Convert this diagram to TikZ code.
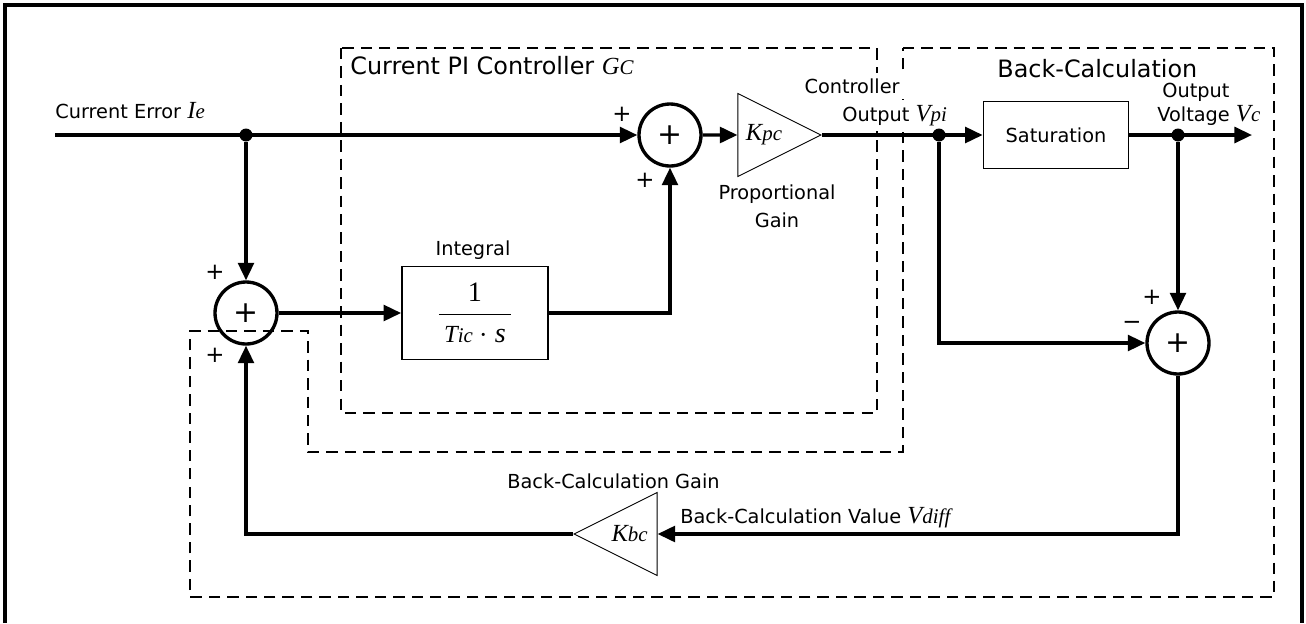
\documentclass[tikz,border=0pt]{standalone}
\usepackage{fontspec}
\setmainfont{DejaVu Sans}
\newfontfamily\varfont{Liberation Serif}
\usetikzlibrary{arrows.meta, positioning, shapes.geometric}
\newcommand{\vsym}[2]{{\fontsize{14}{14}\selectfont\varfont\itshape #1\scalebox{0.85}{#2}}}

\begin{document}
\begin{tikzpicture}[
      x=0.02cm, y=-0.02cm,
      font=\fontsize{11}{12}\selectfont,
      sig/.style={line width=1.9pt, -{Triangle[length=10pt,width=9pt]}},
      blk/.style={draw, line width=1pt, minimum width=2.92cm, minimum height=1.86cm, inner sep=0pt},
      sumc/.style={circle, draw, line width=1.9pt, minimum size=1.24cm, inner sep=0pt,
                   font=\fontsize{17}{17}\selectfont},
      gain/.style={isosceles triangle, isosceles triangle stretches, draw, line width=0.5pt,
                   minimum width=1.66cm, minimum height=1.66cm, inner sep=0pt},
      grp/.style={line width=1.1pt, dash pattern=on 6.5pt off 4pt},
      dot/.style={circle, fill, inner sep=0pt, minimum size=0.26cm},
      sgn/.style={inner sep=0pt, font=\fontsize{13}{13}\selectfont},
      ttl/.style={inner sep=0pt, anchor=base west, font=\fontsize{13.6}{16}\selectfont},
      lbl/.style={inner sep=0pt, anchor=base west},
    ]
    \useasboundingbox (0,0) rectangle (1306,623);
    \draw[line width=1.9pt] (5,623) -- (5,5) -- (1302,5) -- (1302,623);

    % dashed groups
    \draw[grp] (341,48) rectangle (877,413);
    \draw[grp] (903,48) -- (1274,48) -- (1274,597) -- (190,597) -- (190,331)
               -- (308,331) -- (308,452) -- (903,452) -- cycle;

    % labels
    \node[ttl] (pititle) at (350,74) {Current PI Controller \vsym{G}{C}};
    \node[ttl] (bctitle) at (997,77) {Back-Calculation};
    \node[lbl] (errlbl) at (55,118) {Current Error \vsym{I}{e}};
    \node[lbl, anchor=base] (intlbl) at (473,255) {Integral};
    \node[lbl, anchor=base east, fill=white, inner xsep=4pt, inner ysep=3pt] (ctrl1) at (907,93) {Controller};
    \node[lbl, fill=white, inner ysep=3pt] (ctrl2) at (842,121) {Output \vsym{V}{pi}};
    \node[lbl] (vc1) at (1162,97) {Output};
    \node[lbl] (vc2) at (1157,121) {Voltage \vsym{V}{c}};
    \node[lbl, anchor=north, align=center, font=\fontsize{11}{16}\selectfont] (pglbl) at (777,184) {Proportional\\Gain};
    \node[lbl] (bglbl) at (507,488) {Back-Calculation Gain};
    \node[lbl] (bvlbl) at (680,523) {Back-Calculation Value \vsym{V}{diff}};

    % blocks
    \node[sumc] (s1) at (246,313) {+};
    \node[sumc] (s2) at (670,135) {+};
    \node[sumc] (s3) at (1178,343) {+};
    \node[blk] (intg) at (475,313)
      {\fontsize{16}{16}\selectfont$\displaystyle\frac{\mbox{\varfont 1}}{\hspace{3pt}\mbox{\vsym{T}{ic}}\cdot\mbox{\varfont\itshape s}\hspace{3pt}}$};
    \node[blk, minimum width=2.9cm, minimum height=1.34cm] (sat) at (1056,135) {Saturation};
    \node[gain, anchor=apex] (kpc) at (822,135) {\vsym{K}{pc}};
    \node[gain, anchor=apex, shape border rotate=180] (kbc) at (573,534) {\vsym{K}{bc}};

    \coordinate (in) at (55,135);
    \coordinate (out) at (1252,135);
    \node[dot] (j1) at (246,135) {};
    \node[dot] (jpi) at (939,135) {};
    \node[dot] (jvc) at (1178,135) {};

    % signals
    \draw[sig] (in) -- (s2);
    \draw[sig] (j1) -- (s1);
    \draw[sig] (s1) -- (intg);
    \draw[sig] (intg) -| (s2);
    \draw[sig] (s2) -- (kpc);
    \draw[sig] (kpc.apex) -- (sat);
    \draw[sig] (sat) -- (out);
    \draw[sig] (jvc) -- (s3);
    \draw[sig] (jpi) |- (s3);
    \draw[sig] (s3) |- (kbc);
    \draw[sig] (kbc) -| (s1);

    % signs
    \node[sgn] (s1a) at (215,272) {+};
    \node[sgn] (s1b) at (215,355) {+};
    \node[sgn] (s2a) at (622,114) {+};
    \node[sgn] (s2b) at (645,180) {+};
    \node[sgn] (s3a) at (1152,297) {+};
    \node[sgn] (s3b) at (1132,325) {−};
  \end{tikzpicture}
\end{document}
